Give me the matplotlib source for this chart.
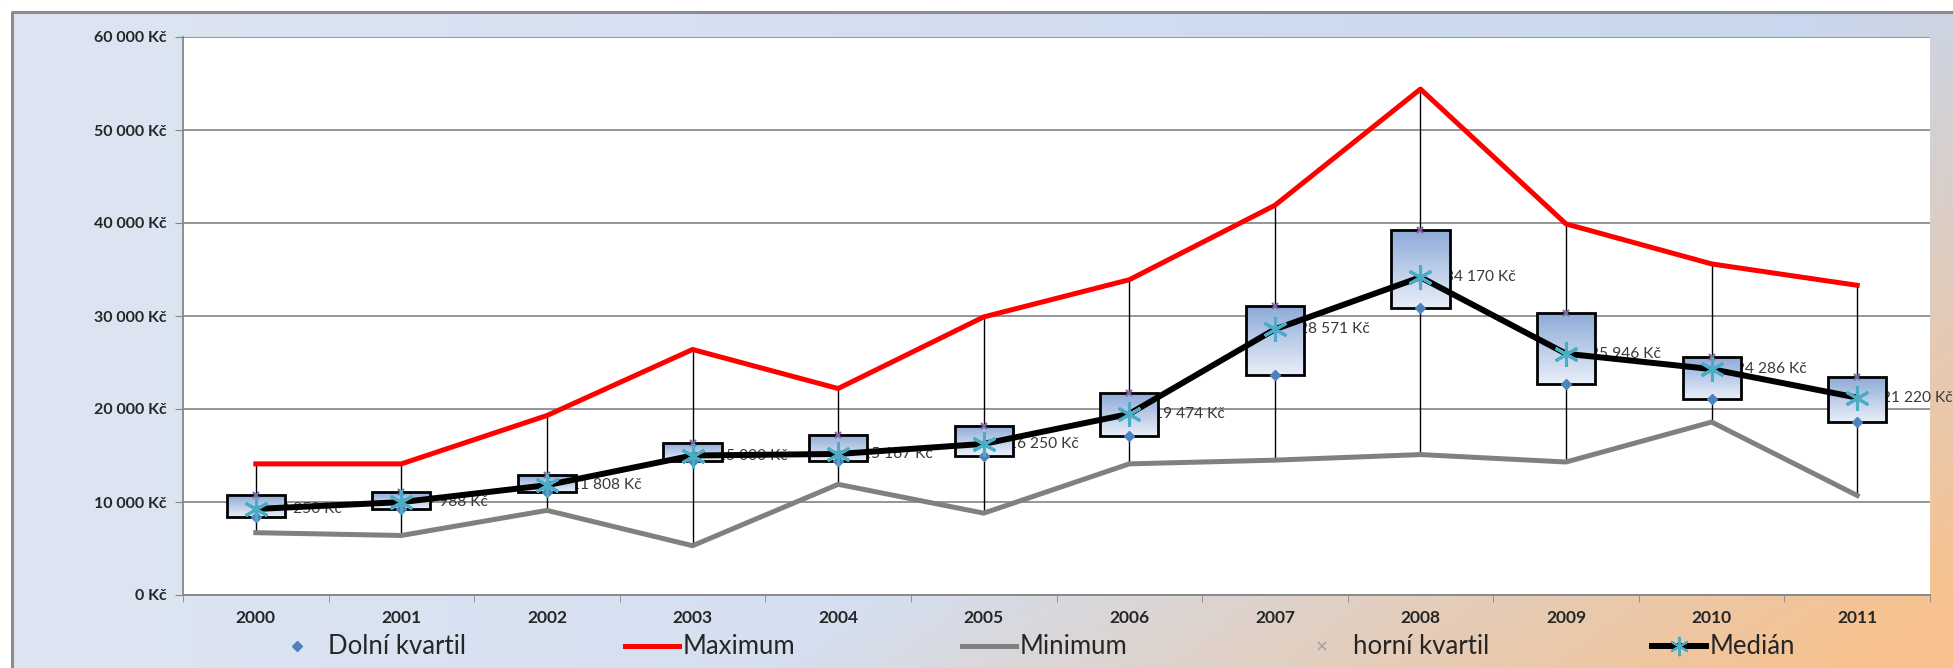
import numpy as np
import matplotlib
matplotlib.use('Agg')
import matplotlib.pyplot as plt
from matplotlib.lines import Line2D
from matplotlib.patches import Rectangle
from matplotlib.ticker import FuncFormatter, FixedLocator

plt.rcParams['font.family'] = ['Lato', 'DejaVu Sans']

years = ['2000', '2001', '2002', '2003', '2004', '2005',
         '2006', '2007', '2008', '2009', '2010', '2011']
maximum = [14100, 14100, 19300, 26400, 22200, 29900, 33900, 41900, 54400, 39900, 35600, 33300]
minimum = [6700, 6400, 9100, 5300, 11900, 8800, 14100, 14500, 15100, 14300, 18600, 10700]
q1 = [8400, 9300, 11100, 14400, 14400, 15000, 17100, 23700, 30900, 22700, 21100, 18600]
q3 = [10700, 11100, 12900, 16300, 17200, 18200, 21700, 31100, 39200, 30300, 25600, 23400]
median = [9250, 9988, 11808, 15000, 15167, 16250, 19474, 28571, 34170, 25946, 24286, 21220]

W, H = 1953, 668
fig = plt.figure(figsize=(W / 100, H / 100), dpi=100)

# pozadí grafu: přechod modrá -> broskvová
bg = fig.add_axes([0, 0, 1, 1], zorder=-10)
xx, yy = np.meshgrid(np.linspace(0, 1, 400), np.linspace(0, 1, 140))
blue_l = np.array([0.87, 0.90, 0.95])
blue_r = np.array([0.78, 0.84, 0.93])
peach = np.array([0.97, 0.76, 0.56])
base = blue_l[None, None, :] * (1 - xx[..., None]) + blue_r[None, None, :] * xx[..., None]
t = np.clip((xx * 0.9 + yy * 0.5 - 0.85) / 0.5, 0, 1)[..., None]
img = base * (1 - t) + peach[None, None, :] * t
bg.imshow(img, extent=[0, 1, 0, 1], aspect='auto', origin='upper', interpolation='bilinear')
bg.add_patch(Rectangle((0, 0), 12 / W, 1, color='white', zorder=2))
bg.add_patch(Rectangle((0, 1 - 12 / H), 1, 12 / H, color='white', zorder=2))
bg.plot([12 / W, 12 / W, 1], [0, 1 - 12 / H, 1 - 12 / H], color='#8c8c8c', lw=2.2, zorder=3)
bg.set_xlim(0, 1); bg.set_ylim(0, 1); bg.axis('off')

ax = fig.add_axes([183 / W, 1 - 595 / H, (1930 - 183) / W, (595 - 37) / H])
ax.set_facecolor('white')
x = np.arange(len(years))

ax.vlines(x, minimum, maximum, color='black', lw=1, zorder=2)
ax.plot(x, maximum, color='#ff0000', lw=3.6, zorder=4, solid_joinstyle='round')
ax.plot(x, minimum, color='#808080', lw=3.6, zorder=4, solid_joinstyle='round')

grad = np.linspace(0, 1, 64)[:, None]
cmap = matplotlib.colors.LinearSegmentedColormap.from_list('box', ['#8eabd8', '#e8eef8'])
bw = 0.2
for i in range(len(years)):
    ax.imshow(grad, extent=[x[i] - bw, x[i] + bw, q1[i], q3[i]], origin='upper',
              cmap=cmap, aspect='auto', interpolation='bilinear', zorder=5)
    ax.add_patch(Rectangle((x[i] - bw, q1[i]), 2 * bw, q3[i] - q1[i], fill=False,
                           ec='black', lw=2, zorder=6))

for i, v in enumerate(median):
    ax.annotate(f'{v:,} Kč'.replace(',', ' '), (x[i], v), xytext=(17.5, 0),
                textcoords='offset points', ha='left', va='center',
                fontsize=11.2, color='#3a3a3a', zorder=3, annotation_clip=False)

ax.plot(x, median, color='black', lw=4.3, zorder=7)
ax.plot(x, q1, ls='none', marker='D', ms=5, color='#4f81bd', zorder=8)
ax.plot(x, q3, ls='none', marker='x', ms=5, mew=1.5, color='#8064a2', zorder=8)
ax.plot(x, median, ls='none', marker=(6, 2, 0), ms=18, mew=2.2, color='#4bacc6', zorder=9)

ax.set_xlim(-0.5, len(years) - 0.5)
ax.set_ylim(0, 60000)
ax.set_xticks(x)
ax.set_xticklabels(years)
ax.xaxis.set_minor_locator(FixedLocator(np.arange(-0.5, len(years), 1)))
ax.tick_params(axis='x', which='major', length=0, pad=11, labelsize=12.5, labelcolor='#262626')
ax.tick_params(axis='x', which='minor', length=5, color='#868686')
for lab in ax.get_xticklabels():
    lab.set_fontweight('bold')
ax.set_yticks(np.arange(0, 60001, 10000))
ax.yaxis.set_major_formatter(FuncFormatter(lambda v, p: f'{int(v):,} Kč'.replace(',', ' ')))
ax.tick_params(axis='y', length=6, color='#868686', labelsize=11.5, labelcolor='#262626', pad=6)
for lab in ax.get_yticklabels():
    lab.set_fontweight('bold')
ax.grid(axis='y', color='#8c8c8c', lw=1.3, zorder=1)
ax.set_axisbelow(True)
for s in ['top', 'right']:
    ax.spines[s].set_visible(False)
for s in ['left', 'bottom']:
    ax.spines[s].set_color('#868686')
    ax.spines[s].set_linewidth(1.3)

# legenda - každá položka zvlášť, jako v Excelu
fs = 18.5
em = fs * 100 / 72  # px
entries = [
    (Line2D([], [], ls='none', marker='D', ms=5, color='#4f81bd'), 'Dolní kvartil', 297),
    (Line2D([], [], color='#ff0000', lw=3.6), 'Maximum', 625),
    (Line2D([], [], color='#808080', lw=3.6), 'Minimum', 962),
    (Line2D([], [], ls='none', marker='x', ms=6, mew=1.2, color='#a6a6a6'), 'horní kvartil', 1322),
    (Line2D([], [], color='black', lw=4.3, marker=(6, 2, 0), ms=14, mew=1.5,
            mfc='#4bacc6', mec='#4bacc6'), 'Medián', 1652),
]
for h, lab, px in entries:
    if h.get_linestyle() != 'None':
        hl, pad, left = 54 / em, 4 / em, px
    else:
        hl, pad, left = 1.0, 18 / em, px - em / 2
    fig.legend(handles=[h], labels=[lab], loc='center left',
               bbox_to_anchor=(left / W, 1 - 647 / H), frameon=False, fontsize=fs,
               handlelength=hl, handletextpad=pad,
               borderpad=0, borderaxespad=0, labelcolor='#262626')

fig.savefig('out.png', dpi=100)
